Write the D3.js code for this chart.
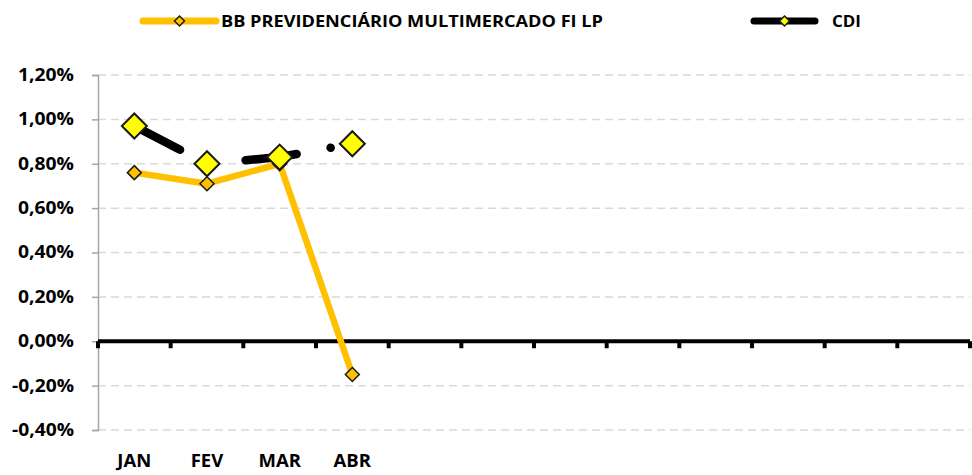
<!DOCTYPE html>
<html>
<head>
<meta charset="utf-8">
<script src="https://cdn.jsdelivr.net/npm/d3@7"></script>
<style>
  body { margin: 0; background: #fff; }
  text { font-family: "Open Sans", "Liberation Sans", sans-serif; font-weight: bold; fill: #000; }
</style>
</head>
<body>
<div id="chart"></div>
<script>
// ======= data
var months = ["JAN", "FEV", "MAR", "ABR", "MAI", "JUN", "JUL", "AGO", "SET", "OUT", "NOV", "DEZ"];
var monthLabels = ["JAN", "FEV", "MAR", "ABR"];
var fundName = "BB PREVIDENCIÁRIO MULTIMERCADO FI LP";
var fundValues = [0.76, 0.71, 0.80, -0.15];
var cdiName = "CDI";
var cdiValues = [0.97, 0.80, 0.83, 0.89];
var yTicks = [-0.4, -0.2, 0, 0.2, 0.4, 0.6, 0.8, 1.0, 1.2];

var W = 972, H = 475;
var plotLeft = 98, plotRight = 970, plotTop = 75, plotBottom = 430;

var svg = d3.select("#chart").append("svg")
  .attr("width", W)
  .attr("height", H);

var x = d3.scaleBand().domain(months).range([plotLeft, plotRight]);
var y = d3.scaleLinear().domain([-0.4, 1.2]).range([plotBottom, plotTop]);

var fmt = function(v) { return v.toFixed(2).replace(".", ",") + "%"; };

// ======= gridlines
svg.append("g").selectAll("line")
  .data(yTicks.filter(function(d) { return d !== 0; }))
  .enter()
  .append("line")
  .attr("x1", plotLeft)
  .attr("x2", plotRight)
  .attr("y1", function(d) { return y(d); })
  .attr("y2", function(d) { return y(d); })
  .attr("stroke", "#d9d9d9")
  .attr("stroke-width", 1.5)
  .attr("stroke-dasharray", "8,5");

// ======= y axis
var yAxis = svg.append("g")
  .attr("transform", "translate(" + plotLeft + ",0)")
  .call(d3.axisLeft(y).tickValues(yTicks).tickFormat(fmt).tickSize(6).tickPadding(18));
yAxis.select(".domain").attr("stroke", "#a6a6a6").attr("stroke-width", 1.5);
yAxis.selectAll(".tick line").attr("stroke", "#a6a6a6").attr("stroke-width", 1.5);
yAxis.selectAll("text")
  .attr("font-size", "17px")
  .attr("font-family", "Open Sans, sans-serif")
  .attr("font-weight", "bold")
  .attr("fill", "#000")
  .attr("textLength", function(d) { return d < 0 ? 62 : 56; })
  .attr("lengthAdjust", "spacingAndGlyphs");

// ======= x axis on zero line
svg.append("line")
  .attr("x1", plotLeft)
  .attr("x2", plotRight)
  .attr("y1", y(0))
  .attr("y2", y(0))
  .attr("stroke", "#000")
  .attr("stroke-width", 4);
svg.append("g").selectAll("line")
  .data(d3.range(months.length + 1))
  .enter()
  .append("line")
  .attr("x1", function(i) { return plotLeft + i * x.step(); })
  .attr("x2", function(i) { return plotLeft + i * x.step(); })
  .attr("y1", y(0))
  .attr("y2", y(0) + 7)
  .attr("stroke", "#000")
  .attr("stroke-width", 4);

// ======= month labels
svg.append("g").selectAll("text")
  .data(monthLabels)
  .enter()
  .append("text")
  .text(function(d) { return d; })
  .attr("x", function(d) { return x(d) + x.bandwidth() / 2; })
  .attr("y", 467)
  .attr("text-anchor", "middle")
  .attr("font-size", "18.5px");

var cx = function(d, i) { return x(months[i]) + x.bandwidth() / 2; };
var line = d3.line()
  .x(function(d, i) { return cx(d, i); })
  .y(function(d) { return y(d); });

var diamond = function(r) {
  return "M0," + (-r) + "L" + r + ",0L0," + r + "L" + (-r) + ",0Z";
};

// ======= fund series
svg.append("path")
  .datum(fundValues)
  .attr("d", line)
  .attr("fill", "none")
  .attr("stroke", "#ffc000")
  .attr("stroke-width", 6.5)
  .attr("stroke-linejoin", "round");
svg.append("g").selectAll("path")
  .data(fundValues)
  .enter()
  .append("path")
  .attr("d", diamond(7))
  .attr("transform", function(d, i) { return "translate(" + cx(d, i) + "," + y(d) + ")"; })
  .attr("fill", "#ffc000")
  .attr("stroke", "#1a1a1a")
  .attr("stroke-width", 1.5);

// ======= CDI series (long dash dot)
svg.append("path")
  .datum(cdiValues)
  .attr("d", line)
  .attr("fill", "none")
  .attr("stroke", "#000")
  .attr("stroke-width", 8.5)
  .attr("stroke-linecap", "round")
  .attr("stroke-linejoin", "round")
  .attr("stroke-dasharray", "51.5,34.5,0.1,34.5");
svg.append("g").selectAll("path")
  .data(cdiValues)
  .enter()
  .append("path")
  .attr("d", diamond(12.5))
  .attr("transform", function(d, i) { return "translate(" + cx(d, i) + "," + y(d) + ")"; })
  .attr("fill", "#ffff00")
  .attr("stroke", "#1a1a1a")
  .attr("stroke-width", 2);

// ======= legend
var legend = [
  { name: fundName, color: "#ffc000", fill: "#ffc000", x1: 143, x2: 216, tx: 221, tw: 382 },
  { name: cdiName, color: "#000", fill: "#ffff00", x1: 754, x2: 815, tx: 832, tw: 29 }
];
var lg = svg.append("g").selectAll("g")
  .data(legend)
  .enter()
  .append("g");
lg.append("line")
  .attr("x1", function(d) { return d.x1; })
  .attr("x2", function(d) { return d.x2; })
  .attr("y1", 21)
  .attr("y2", 21)
  .attr("stroke", function(d) { return d.color; })
  .attr("stroke-width", 7)
  .attr("stroke-linecap", "round");
lg.append("path")
  .attr("d", diamond(5))
  .attr("transform", function(d) { return "translate(" + ((d.x1 + d.x2) / 2) + ",21)"; })
  .attr("fill", function(d) { return d.fill; })
  .attr("stroke", "#1a1a1a")
  .attr("stroke-width", 1.5);
lg.append("text")
  .text(function(d) { return d.name; })
  .attr("x", function(d) { return d.tx; })
  .attr("y", 27)
  .attr("font-size", "16.5px")
  .attr("textLength", function(d) { return d.tw; })
  .attr("lengthAdjust", "spacingAndGlyphs");
</script>
</body>
</html>
